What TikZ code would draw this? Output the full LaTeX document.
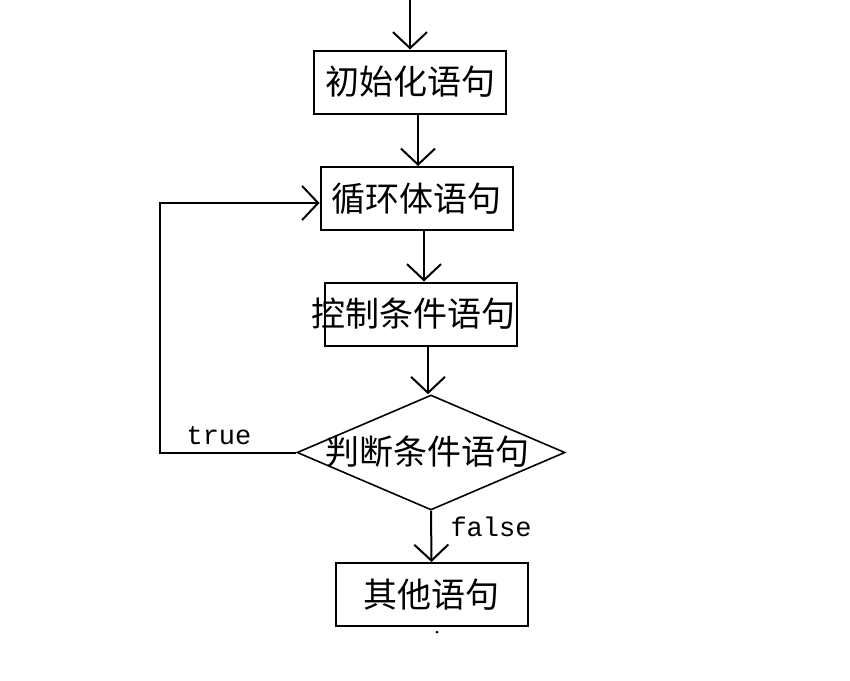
\documentclass[tikz,border=0pt]{standalone}
\usepackage{fontspec}
\newfontfamily\cjk{Noto Sans CJK SC}
\setmonofont{Liberation Mono}
\usetikzlibrary{shapes.geometric,arrows.meta}
\pgfdeclarelayer{edgelayer}
\pgfdeclarelayer{nodelayer}
\pgfsetlayers{edgelayer,nodelayer,main}
\tikzset{font=\cjk\fontsize{34}{40}\selectfont}
\tikzstyle{none}=[inner sep=0pt]
\tikzstyle{block}=[draw,line width=2pt,inner sep=0pt,minimum width=192pt,minimum height=63pt]
\tikzstyle{decide}=[diamond,draw,line width=1.6pt,inner sep=0pt,minimum width=268pt,minimum height=115pt]
\tikzstyle{flow}=[line width=2pt,-{Straight Barb[length=16pt,width=34pt]}]
\tikzstyle{tag}=[inner sep=0pt,font=\ttfamily\fontsize{27}{30}\selectfont]

\begin{document}
\begin{tikzpicture}[x=1pt,y=-1pt]
	\useasboundingbox (0, 0) rectangle (850, 680);
	\begin{pgfonlayer}{nodelayer}
		\coordinate (0) at (410, 0);
		\node [style=block] (1) at (410, 82) {\makebox[0pt]{初始化语句}};
		\node [style=block] (2) at (416.5, 198.5) {\makebox[0pt]{循环体语句}};
		\node [style=block] (3) at (421, 314) {\makebox[0pt]{\hspace*{-16pt}控制条件语句}};
		\node [style=decide] (4) at (431, 452.5) {};
		\node [style=none] (5) at (427, 452) {判断条件语句};
		\node [style=block] (6) at (431.5, 594.5) {\makebox[0pt]{其他语句}};
		\node [style=tag] (7) at (219, 436) {true};
		\node [style=tag] (8) at (491, 527) {false};
		\coordinate (9) at (160, 452.5);
	\end{pgfonlayer}
	\begin{pgfonlayer}{edgelayer}
		\draw [style=flow] (0) to (1.north);
		\draw [style=flow] ([xshift=8pt]1.south) to ([xshift=1.5pt]2.north);
		\draw [style=flow] ([xshift=7.5pt]2.south) to ([xshift=3pt]3.north);
		\draw [style=flow] ([xshift=7pt]3.south) to ([xshift=-3pt]4.north);
		\draw [style=flow] (4.south) to (6.north);
		\draw [style=flow] (4.west) -- (9) |- ([yshift=-4.5pt]2.west);
	\end{pgfonlayer}
	\fill (437, 632) circle (1.5pt);
\end{tikzpicture}
\end{document}
